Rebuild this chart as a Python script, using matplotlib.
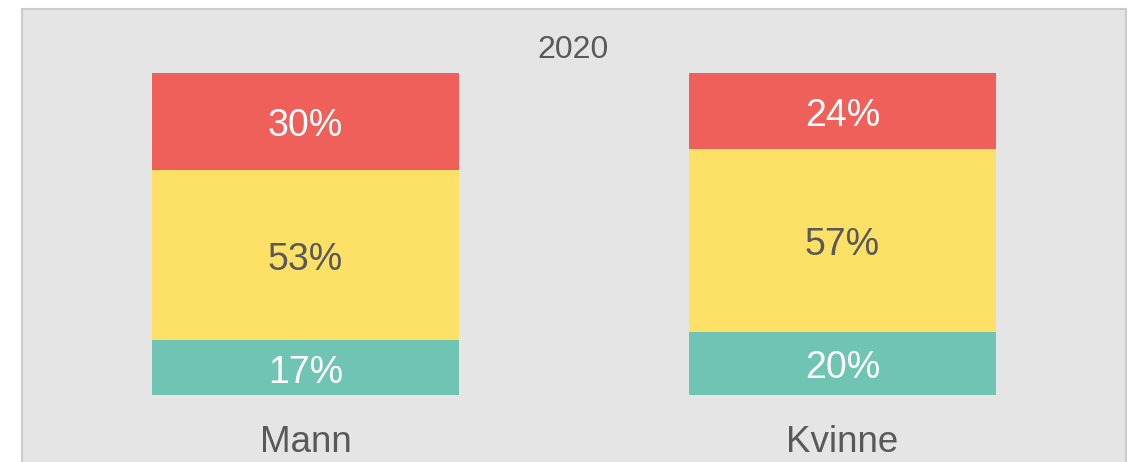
import matplotlib.pyplot as plt
from matplotlib.patches import Rectangle

plt.rcParams['font.family'] = ['Liberation Sans', 'DejaVu Sans']

categories = ["Mann", "Kvinne"]
title = "2020"
# shares in percent, bottom to top
low = [17, 19.6]
mid = [53, 56.8]
high = [30, 23.6]

colors = ["#70c4b4", "#fde066", "#f0605a"]
label_colors = ["white", "#595959", "white"]
text_gray = "#595959"

fig = plt.figure(figsize=(11.31, 4.62), dpi=100)
W, H = 1131, 462

# grey panel with border, runs off the bottom edge
fig.patches.append(Rectangle((22 / W, -0.1), (1126 - 22) / W, (462 - 9) / H + 0.1,
                             transform=fig.transFigure, facecolor="#e5e5e5",
                             edgecolor="#cccccc", linewidth=1.5, zorder=-1))

ax = fig.add_axes([0, (H - 395) / H, 1, 322 / H])
ax.set_facecolor("none")
x = range(len(categories))
width = 307 / 537
ax.set_xlim(-305.5 / 537, (W - 305.5) / 537)
ax.set_ylim(0, 100)

bottom = [0, 0]
for vals, col, lcol in zip([low, mid, high], colors, label_colors):
    ax.bar(x, vals, width=width, bottom=bottom, color=col, linewidth=0)
    for i, v in enumerate(vals):
        ax.annotate(f"{round(v)}%", (i, bottom[i] + v / 2), xytext=(0, -3.6),
                    textcoords="offset points", ha="center", va="center",
                    fontsize=27, color=lcol)
    bottom = [b + v for b, v in zip(bottom, vals)]

ax.axis("off")

for i, c in enumerate(categories):
    fig.text((305.5 + 537 * i) / W, 1 - 443 / H, c, ha="center", va="center",
             fontsize=26.5, color=text_gray)
fig.text(573 / W, 1 - 50 / H, title, ha="center", va="center", fontsize=23, color=text_gray)

fig.savefig("out.png", dpi=100)
